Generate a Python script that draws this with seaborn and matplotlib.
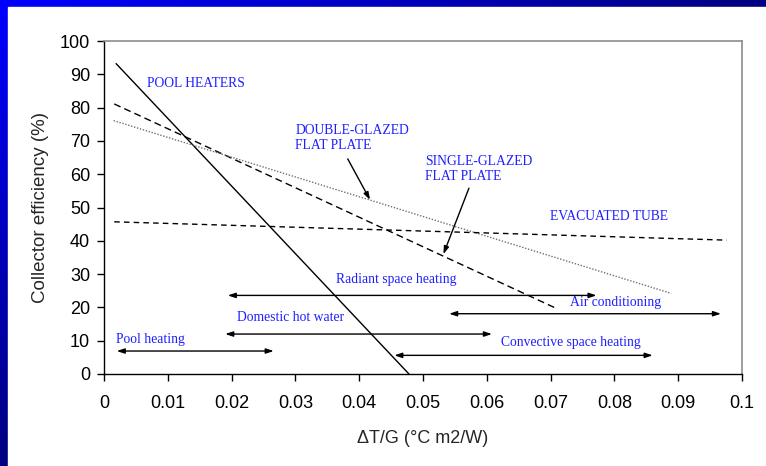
import numpy as np
import pandas as pd
import matplotlib
matplotlib.use("Agg")
import matplotlib.pyplot as plt
import seaborn as sns

# ---------------- data ----------------
collectors = ["POOL HEATERS", "SINGLE-GLAZED FLAT PLATE", "DOUBLE-GLAZED FLAT PLATE", "EVACUATED TUBE"]
x_start = [0.0019, 0.0016, 0.0015, 0.0016]
x_end = [0.0478, 0.0709, 0.0889, 0.0976]
eff_start = [93.2, 81.1, 76.1, 45.7]
eff_end = [0.0, 19.7, 24.2, 40.2]

usages = ["Pool heating", "Domestic hot water", "Radiant space heating",
          "Air conditioning", "Convective space heating"]
range_lo = [0.0020, 0.0190, 0.0194, 0.0541, 0.0455]
range_hi = [0.0266, 0.0608, 0.0772, 0.0967, 0.0860]
range_eff = [6.9, 12.0, 23.6, 18.1, 5.6]
usage_label_x = [0.0019, 0.0209, 0.0363, 0.0731, 0.0622]
usage_label_eff = [10.5, 16.9, 28.4, 21.4, 9.4]

collector_labels = ["POOL HEATERS", "SINGLE-GLAZED\nFLAT PLATE", "DOUBLE-GLAZED\nFLAT PLATE", "EVACUATED TUBE"]
collector_label_x = [0.0067, 0.0503, 0.0300, 0.0699]
collector_label_eff = [87.3, 61.5, 70.8, 47.4]

x_ticks = [0, 0.01, 0.02, 0.03, 0.04, 0.05, 0.06, 0.07, 0.08, 0.09, 0.1]
x_tick_labels = ["0", "0.01", "0.02", "0.03", "0.04", "0.05", "0.06", "0.07", "0.08", "0.09", "0.1"]
y_ticks = list(range(0, 101, 10))

# ---------------- style ----------------
sns.set_style("ticks")
plt.rcParams["font.family"] = ["Liberation Sans", "DejaVu Sans"]

fig = plt.figure(figsize=(7.66, 4.66), dpi=100)

# background: blue gradient frame with white panel
bg = fig.add_axes([0, 0, 1, 1], zorder=-10)
W, H = 766, 466
xx, yy = np.meshgrid(np.linspace(0, 1, W), np.linspace(0, 1, H))
t = np.clip(xx + yy, 0, 1)
img = np.zeros((H, W, 3))
img[..., 2] = (255 - 127 * t) / 255.0
bg.imshow(img, extent=[0, 1, 0, 1], aspect="auto", origin="upper")
bg.add_patch(plt.Rectangle((8 / W, 0), 1, 1 - 7 / H, color="white", zorder=2))
bg.set_xlim(0, 1)
bg.set_ylim(0, 1)
bg.axis("off")

ax = fig.add_axes([104 / W, 1 - 374 / H, (742 - 104) / W, (374 - 41) / H])
ax.set_facecolor("white")

rows = []
for name, xs, xe, ys, ye in zip(collectors, x_start, x_end, eff_start, eff_end):
    rows.append({"collector": name, "x": xs, "eff": ys})
    rows.append({"collector": name, "x": xe, "eff": ye})
df = pd.DataFrame(rows)

styles = {
    "POOL HEATERS": dict(color="black", lw=1.0, ls="-"),
    "SINGLE-GLAZED FLAT PLATE": dict(color="black", lw=1.0, ls=(0, (5, 3))),
    "DOUBLE-GLAZED FLAT PLATE": dict(color="#707070", lw=1.0, ls=(0, (1, 1.2))),
    "EVACUATED TUBE": dict(color="black", lw=1.0, ls=(0, (4, 3))),
}
for name in collectors:
    sub = df[df["collector"] == name]
    st = styles[name]
    sns.lineplot(data=sub, x="x", y="eff", ax=ax, color=st["color"], lw=st["lw"],
                 linestyle=st["ls"], legend=False, zorder=3)

ax.set_xlim(0, 0.1)
ax.set_ylim(0, 100)
ax.set_xticks(x_ticks)
ax.set_xticklabels(x_tick_labels)
ax.set_yticks(y_ticks)
ax.tick_params(axis="both", which="major", labelsize=13, length=5, width=1,
               color="black", labelcolor="black", direction="out")
ax.tick_params(axis="x", pad=10)
ax.tick_params(axis="y", pad=5)
for side in ["left", "bottom"]:
    ax.spines[side].set_color("black")
    ax.spines[side].set_linewidth(1.0)
for side in ["top", "right"]:
    ax.spines[side].set_visible(True)
    ax.spines[side].set_color("#8c8c8c")
    ax.spines[side].set_linewidth(1.2)

ax.set_xlabel("ΔT/G (°C m2/W)", fontsize=13)
ax.set_ylabel("Collector efficiency (%)", fontsize=13.5)
ax.xaxis.set_label_coords(0.5, -0.167)
ax.yaxis.set_label_coords(-0.086, 0.5)

blue = "#2020ff"
serif = ["Liberation Serif", "DejaVu Serif"]

# usage ranges (double-headed arrows)
for lo, hi, e in zip(range_lo, range_hi, range_eff):
    ax.annotate("", xy=(hi, e), xytext=(lo, e),
                arrowprops=dict(arrowstyle="<|-|>,head_length=0.45,head_width=0.15",
                                color="black", lw=1.0, shrinkA=0, shrinkB=0), zorder=4)
for lab, lx, le in zip(usages, usage_label_x, usage_label_eff):
    ax.text(lx, le, lab, color=blue, fontsize=9.8, family=serif, ha="left", va="center", zorder=5)

for lab, lx, le in zip(collector_labels, collector_label_x, collector_label_eff):
    ax.text(lx, le, lab, color=blue, fontsize=9.8, family=serif, ha="left", va="center",
            linespacing=1.2, zorder=5)

# pointer arrows
ax.annotate("", xy=(0.0417, 52.3), xytext=(0.0382, 64.6),
            arrowprops=dict(arrowstyle="-|>,head_length=0.45,head_width=0.15",
                            color="black", lw=1.0, shrinkA=0, shrinkB=0), zorder=4)
ax.annotate("", xy=(0.0532, 36.0), xytext=(0.0572, 55.8),
            arrowprops=dict(arrowstyle="-|>,head_length=0.45,head_width=0.15",
                            color="black", lw=1.0, shrinkA=0, shrinkB=0), zorder=4)

fig.savefig("out.png", dpi=100)
